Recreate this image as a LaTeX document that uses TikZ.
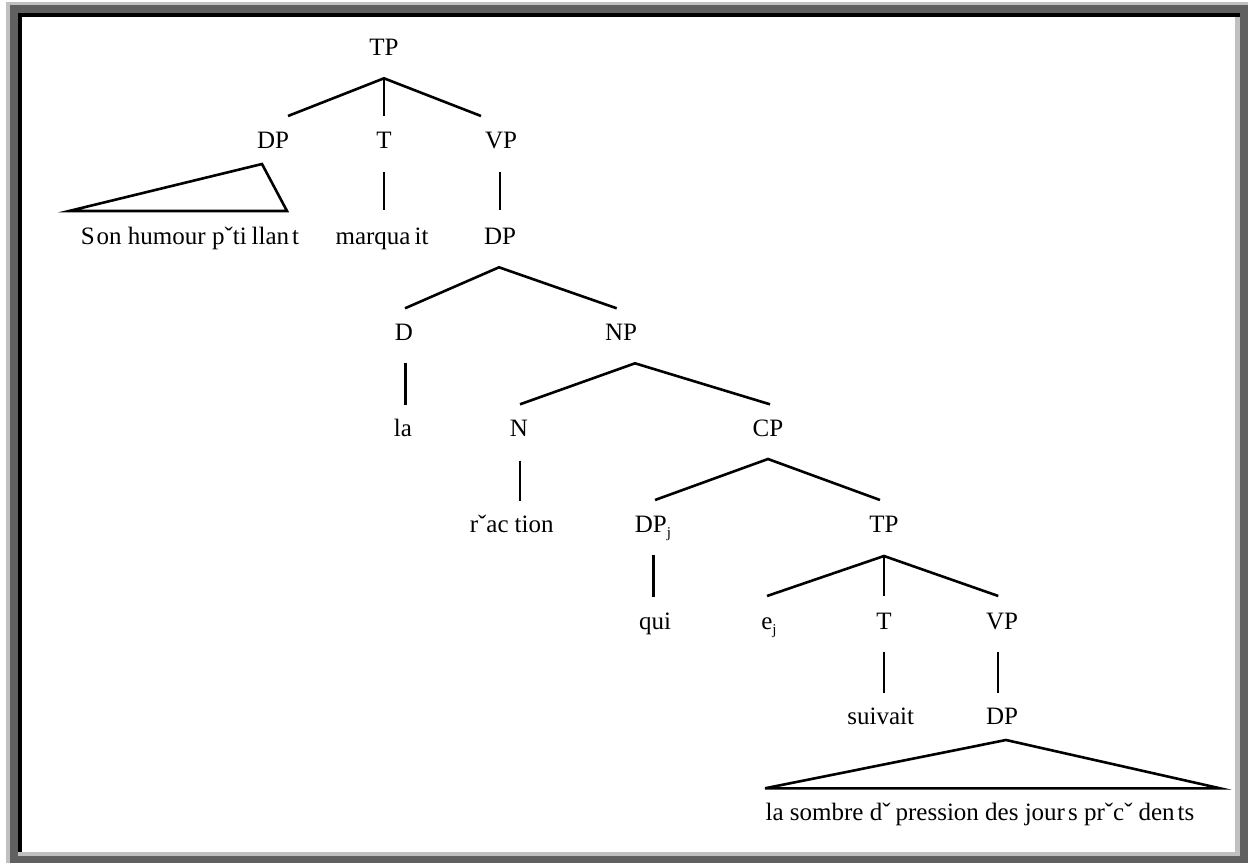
\documentclass[tikz,border=0pt]{standalone}
\usepackage{fontspec}
\setmainfont{Liberation Serif}
\definecolor{framelight}{HTML}{C0C0C0}
\definecolor{framedark}{HTML}{606060}
\newcommand\lowj{\raisebox{-5pt}{\fontsize{15}{15}\selectfont j}}
\tikzset{
  lbl/.style={anchor=base, inner sep=0pt, font=\fontsize{25}{30}\selectfont},
  edge/.style={line width=2.6pt, line join=miter}
}
\begin{document}
\begin{tikzpicture}[x=1pt,y=-1pt]
\useasboundingbox (0,0) rectangle (1248,863);
% bevelled window frame
\fill[framelight] (6,2) rectangle (1248,863);
\fill[framedark] (10,5) rectangle (1248,863);
\fill[black] (18,13) rectangle (1240,856);
\fill[framelight] (1235,17) rectangle (1240,856);
\fill[framelight] (18,852) rectangle (1240,856);
\fill[white] (22,17) rectangle (1235,852);

% labels, level by level
\node[lbl] (tp0) at (384,55) {TP};
\node[lbl] (dp1) at (273,148.5) {DP};
\node[lbl] (t1) at (384,148.5) {T};
\node[lbl] (vp1) at (501,148.5) {VP};
\node[lbl] (subj) at (190,244) {S\kern2pt on humour pˇti\kern5pt llan\kern3pt t};
\node[lbl] (v1) at (382,244) {marqua\kern4pt it};
\node[lbl] (dp2) at (500,244) {DP};
\node[lbl] (d3) at (404,340.5) {D};
\node[lbl] (np3) at (621,340.5) {NP};
\node[lbl] (la4) at (403,436.7) {la};
\node[lbl] (n4) at (519,436.7) {N};
\node[lbl] (cp4) at (768,436.7) {CP};
\node[lbl] (reac5) at (511.7,532.5) {rˇac\kern6pt tion};
\node[lbl] (dpj5) at (653,532.5) {DP\lowj};
\node[lbl] (tp5) at (884,532.5) {TP};
\node[lbl] (qui6) at (655,629) {qui};
\node[lbl] (ej6) at (769,629) {e\lowj};
\node[lbl] (t6) at (884,629) {T};
\node[lbl] (vp6) at (1002,629) {VP};
\node[lbl] (v7) at (880.7,724) {suivait};
\node[lbl] (dp7) at (1002,724) {DP};
\node[lbl] (obj8) at (980,820) {la sombre dˇ\kern5pt pression des jour\kern3pt s prˇcˇ\kern6pt den\kern3pt ts};

% branch points and branch ends
\coordinate (tp0-r) at (384,78.3);
\coordinate (dp1-t) at (288,116);
\coordinate (t1-t) at (384,116);
\coordinate (vp1-t) at (481,116);
\coordinate (dp1-apex) at (262,164);
\coordinate (dp1-bl) at (69,211);
\coordinate (dp1-br) at (287,211);
\coordinate (t1-b) at (384,172);
\coordinate (v1-t) at (384,210);
\coordinate (vp1-b) at (500,172);
\coordinate (dp2-t) at (500,210);
\coordinate (dp2-r) at (499,267.3);
\coordinate (d3-t) at (405,308.3);
\coordinate (np3-t) at (616.7,308.3);
\coordinate (d3-b) at (405.7,363.3);
\coordinate (la4-t) at (405.7,405);
\coordinate (np3-r) at (635,363.3);
\coordinate (n4-t) at (520,404.3);
\coordinate (cp4-t) at (770,404.3);
\coordinate (n4-b) at (520,460.5);
\coordinate (reac5-t) at (520,500.5);
\coordinate (cp4-r) at (768,459);
\coordinate (dpj5-t) at (655,500);
\coordinate (tp5-t) at (880,500);
\coordinate (dpj5-b) at (653.3,555);
\coordinate (qui6-t) at (653.3,596.7);
\coordinate (tp5-r) at (884,556);
\coordinate (ej6-t) at (767,596);
\coordinate (t6-t) at (884,596);
\coordinate (vp6-t) at (998.3,596);
\coordinate (t6-b) at (884,651.7);
\coordinate (v7-t) at (884,692.7);
\coordinate (vp6-b) at (998,651.7);
\coordinate (dp7-t) at (998,692.7);
\coordinate (dp7-apex) at (1006,740);
\coordinate (dp7-bl) at (765,788.3);
\coordinate (dp7-br) at (1220,788.3);

% branches
\draw[edge] (dp1-t) -- (tp0-r) -- (vp1-t);
\draw[edge] (tp0-r) -- (t1-t);
\draw[edge] (dp1-apex) -- (dp1-bl) -- (dp1-br) -- cycle;
\draw[edge] (t1-b) -- (v1-t);
\draw[edge] (vp1-b) -- (dp2-t);
\draw[edge] (d3-t) -- (dp2-r) -- (np3-t);
\draw[edge] (d3-b) -- (la4-t);
\draw[edge] (n4-t) -- (np3-r) -- (cp4-t);
\draw[edge] (n4-b) -- (reac5-t);
\draw[edge] (dpj5-t) -- (cp4-r) -- (tp5-t);
\draw[edge] (dpj5-b) -- (qui6-t);
\draw[edge] (ej6-t) -- (tp5-r) -- (vp6-t);
\draw[edge] (tp5-r) -- (t6-t);
\draw[edge] (t6-b) -- (v7-t);
\draw[edge] (vp6-b) -- (dp7-t);
\draw[edge] (dp7-apex) -- (dp7-bl) -- (dp7-br) -- cycle;
\end{tikzpicture}
\end{document}
